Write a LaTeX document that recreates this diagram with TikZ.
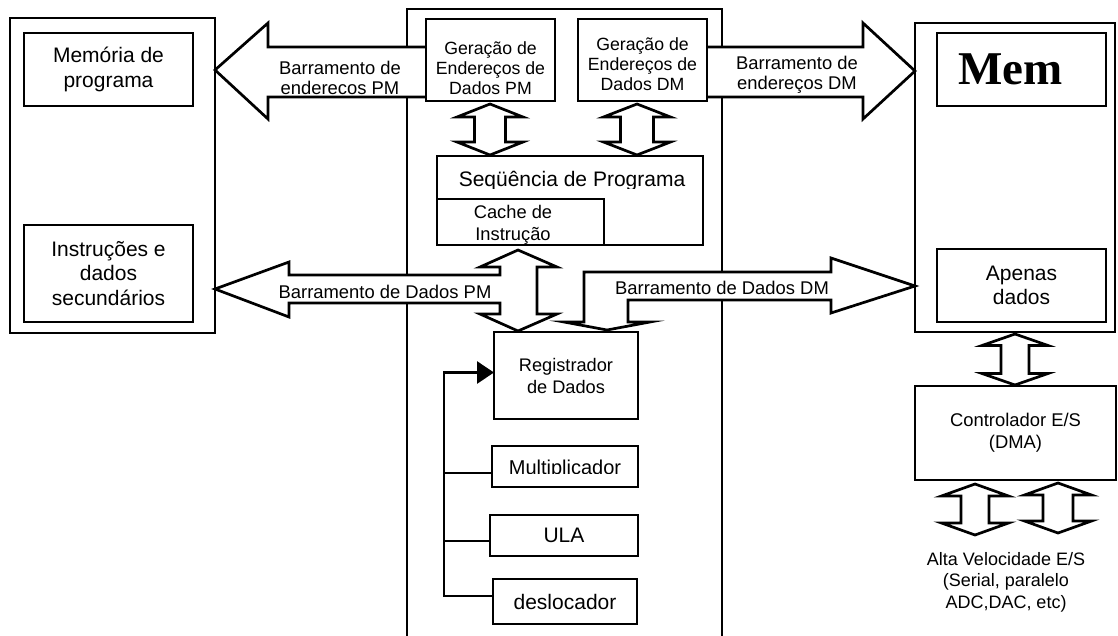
\documentclass[tikz,border=0pt]{standalone}
\usepackage{fontspec}
\setmainfont{Liberation Sans}
\newfontfamily\memserif{Liberation Serif}
\usetikzlibrary{arrows.meta,calc}

% box from corner (x1,y1) to corner (x2,y2), y grows downwards
\newcommand\blk[7][]{%
  \node[box,#1,minimum width={#5-#3},minimum height={#6-#4}] (#2)
    at ({(#3+#5)/2},{(#4+#6)/2}) {#7};}
% vertical double block arrow: centre x, top tip, bottom tip, head half width, shaft half width, head length
\newcommand\dblarrow[6]{%
  \draw[bus] (#1,#2) -- ({#1+#4},{#2+#6}) -- ({#1+#5},{#2+#6}) -- ({#1+#5},{#3-#6})
    -- ({#1+#4},{#3-#6}) -- (#1,#3) -- ({#1-#4},{#3-#6}) -- ({#1-#5},{#3-#6})
    -- ({#1-#5},{#2+#6}) -- ({#1-#4},{#2+#6}) -- cycle;}

\begin{document}
\begin{tikzpicture}[x=1pt,y=-1pt,
  lw/.style={line width=2.7pt},
  box/.style={draw, lw, fill=white, inner sep=0pt, outer sep=0pt, align=center},
  bus/.style={draw, lw, fill=white, line join=miter, miter limit=12},
  txt/.style={align=center, inner sep=0pt, font=\fontsize{18.4}{20.5}\selectfont},
  txtl/.style={align=center, inner sep=0pt, font=\fontsize{21}{24.5}\selectfont},
  txts/.style={align=center, inner sep=0pt, font=\fontsize{17.7}{20}\selectfont},
  txtm/.style={align=center, inner sep=0pt, font=\fontsize{18.3}{22}\selectfont},
]
\useasboundingbox (0,0) rectangle (1118,635);

% memories and core frame
\blk{pmem}{10}{18}{215}{333}{}
\blk{dmem}{915}{23}{1115}{332}{}
\coordinate (coreBL) at (407,640);
\coordinate (coreBR) at (722,640);
\draw[lw, line join=miter] (coreBL) -- (407,9) -- (722,9) -- (coreBR);

% address buses
\draw[bus] (426,47) -- (268,47) -- (268,23) -- (pmem.east |- 0,70) -- (268,119) -- (268,97) -- (426,97);
\draw[bus] (707,47) -- (863,47) -- (863,23) -- (dmem.west |- 0,71) -- (863,119) -- (863,97) -- (707,97);

% PM data bus joined to the cache arrow
\draw[bus] (518,250) -- (557,267) -- (537,267) -- (537,314) -- (557,314) -- (518,331)
  -- (480,314) -- (500,314) -- (500,303) -- (289,303) -- (289,317) -- (pmem.east |- 0,289)
  -- (289,262) -- (289,275) -- (500,275) -- (500,267) -- (480,267) -- cycle;
% DM data bus joined to the register arrow
\draw[bus] (628,300) -- (831,300) -- (831,313) -- (dmem.west |- 0,286) -- (831,258) -- (831,272)
  -- (584,272) -- (584,322) -- (564,322) -- (607,330) -- (650,322) -- (628,322) -- cycle;

% short double arrows
\dblarrow{490}{104}{155}{33}{15.5}{13}
\dblarrow{637}{104}{155}{33.5}{16.5}{13}
\dblarrow{1015}{334}{385}{33}{14}{11.5}
\dblarrow{975}{484}{535}{33.5}{14}{12}
\dblarrow{1058}{483}{533}{33.5}{15}{12}

% program memory
\blk[txtl]{prog}{24}{33}{193}{106}{Memória de\\programa}
\blk[txtl]{sec}{24}{225}{193}{322}{Instruções e\\dados\\secundários}

% core blocks
\blk{gpm}{426}{19}{555}{101}{}
\node[txts] at (490.5,68) {Geração de\\Endereços de\\Dados PM};
\blk{gdm}{578}{19}{707}{101}{}
\node[txts] at (642.5,64) {Geração de\\Endereços de\\Dados DM};
\blk{seq}{437}{156}{703}{245}{}
\begin{scope}
  \clip (440,150) rectangle (700,188);
  \node[inner sep=0pt, font=\fontsize{21}{24}\selectfont] (seqt) at (572,181) {Seqüência de Programa};
\end{scope}
\blk{cache}{437}{199}{604}{245}{}
\node[txtm] at (513,225) {Cache de\\Instrução};
\blk[font=\fontsize{18.2}{22}\selectfont]{reg}{494}{332}{638}{419}{Registrador\\de Dados}
\blk{mult}{492}{446}{638}{487}{}
\begin{scope}
  \clip (495,450) rectangle (635,473.5);
  \node[inner sep=0pt, font=\fontsize{20}{24}\selectfont] (multt) at (565,469) {Multiplicador};
\end{scope}
\blk[txtl]{ula}{490}{515}{638}{556}{ULA}
\blk[txtl]{desl}{493}{579}{637}{624}{deslocador}

% feedback from the units to the data register
\coordinate (fb) at (444,372.5);
\draw[lw, line join=miter, -{Triangle[length=17pt,width=22pt]}] (desl.west |- 0,596) -| (fb) -- (reg.west |- fb);
\draw[lw] (mult.west |- 0,473) -- (fb |- 0,473);
\draw[lw] (ula.west |- 0,541) -- (fb |- 0,541);

% data memory
\blk{mem}{937}{33}{1106}{106}{}
\node[inner sep=0pt, font=\memserif\bfseries\fontsize{47}{50}\selectfont] (memt) at (1010.5,69) {Mem};
\blk[txtl]{only}{937}{249}{1106}{322}{Apenas\\dados}
\blk[txt, font=\fontsize{18.4}{22}\selectfont]{dma}{915}{386}{1116}{480}{Controlador E/S\\(DMA)}
\node[txt, font=\fontsize{18}{21.5}\selectfont] (io) at (1006,582) {Alta Velocidade E/S\\(Serial, paralelo\\ADC,DAC, etc)};

% bus labels
\node[txt] (l1) at (340,78) {Barramento de\\enderecos PM};
\node[txt] (l2) at (797,75) {Barramento de\\endereços DM};
\node[txt] (l3) at (385,292) {Barramento de Dados PM};
\node[txt] (l4) at (722,288) {Barramento de Dados DM};
\end{tikzpicture}
\end{document}
